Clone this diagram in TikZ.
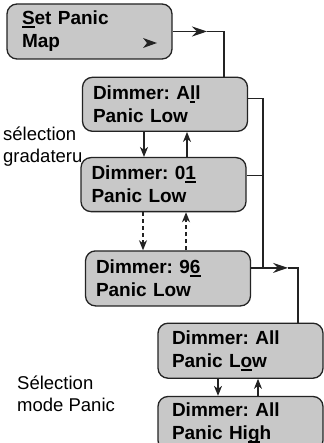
\documentclass[tikz,border=0pt]{standalone}
\usepackage{fontspec}
\setmainfont{Liberation Sans}
\usetikzlibrary{arrows.meta,positioning}
\definecolor{boxgray}{RGB}{200,200,200}
\definecolor{ink}{RGB}{35,35,35}
\newcommand{\keyul}[1]{\setbox0\hbox{#1}\rlap{\rule[-3pt]{\wd0}{1.8pt}}\box0}
\frenchspacing

\begin{document}
\begin{tikzpicture}[
  x=1pt, y=-1pt,
  node distance=17pt,
  box/.style={draw=ink, fill=boxgray, line width=1.3pt, rounded corners=10pt, align=left,
    minimum width=165pt, minimum height=54pt, text width=144pt, inner xsep=0pt,
    font=\bfseries\fontsize{19}{23}\selectfont},
  note/.style={align=left, inner sep=0pt, font=\fontsize{18.5}{22}\selectfont},
  wire/.style={draw=ink, line width=1.2pt},
  arrow/.style={wire, -{Stealth[length=10pt, width=8pt, inset=3pt]}},
  bigarrow/.style={wire, -{Stealth[length=15pt, width=10pt, inset=5pt]}},
  dasharrow/.style={arrow, dash pattern=on 4pt off 3pt}
]
\useasboundingbox (0,0) rectangle (323,443);

\node[box, text width=135pt, minimum height=55pt] (set) at (89.5,31.5) {\keyul{S}et Panic\\Map};
\node[box, below=17pt of set, xshift=75.5pt] (all) {Dimmer: A\keyul{l}l\\Panic Low};
\node[box, below=25pt of all, xshift=-1.5pt] (d01) {Dimmer: 0\keyul{1}\\Panic Low};
\node[box, below=38pt of d01, xshift=4.5pt, minimum height=55pt] (d96) {Dimmer: 9\keyul{6}\\Panic Low};
\node[box, text width=137pt, below=16pt of d96, xshift=72.5pt, minimum height=55pt] (low) {Dimmer: All\\Panic L\keyul{o}w};
\node[box, text width=137pt, below=17pt of low] (high) {Dimmer: All\\Panic Hi\keyul{g}h};

\node[note, anchor=north west] (sel) at (3,127) {sélection\\gradateru};
\node[note, anchor=north west] (mode) at (17,376) {Sélection\\mode Panic};

% pointer inside the first box
\fill[ink] (143,38) -- (157,43) -- (143,48) -- (147,43) -- cycle;

% up / down between the boxes
\draw[arrow] ([xshift=-21pt]all.south) -- ([xshift=-21pt]all.south |- d01.north);
\draw[arrow] ([xshift=22pt]all.south |- d01.north) -- ([xshift=22pt]all.south);
\draw[dasharrow] ([xshift=-20.5pt]d01.south) -- ([xshift=-20.5pt]d01.south |- d96.north);
\draw[dasharrow] ([xshift=22.5pt]d01.south |- d96.north) -- ([xshift=22.5pt]d01.south);
\draw[arrow] ([xshift=-22.5pt]low.south) -- ([xshift=-22.5pt]low.south |- high.north);
\draw[arrow] ([xshift=17.5pt]low.south |- high.north) -- ([xshift=17.5pt]low.south);

% enter / exit lines on the right
\coordinate (tipA) at (207,0);
\coordinate (turnA) at (224,0);
\coordinate (bus) at (263,0);
\coordinate (tipB) at (288,0);
\coordinate (turnB) at (298,0);
\draw[bigarrow] (set.east) -- (set.east -| tipA);
\draw[wire] (set.east -| tipA) -- (set.east -| turnA) -- (turnA |- all.north);
\draw[wire] ([yshift=6pt]all.east) -- ([yshift=6pt]all.east -| bus) -- ([yshift=10.5pt]d96.east -| bus);
\draw[wire] ([yshift=9pt]d01.east) -- ([yshift=9pt]d01.east -| bus);
\draw[bigarrow] ([yshift=10.5pt]d96.east) -- ([yshift=10.5pt]d96.east -| tipB);
\draw[wire] ([yshift=10.5pt]d96.east -| tipB) -- ([yshift=10.5pt]d96.east -| turnB) -- (turnB |- low.north);
\end{tikzpicture}
\end{document}
